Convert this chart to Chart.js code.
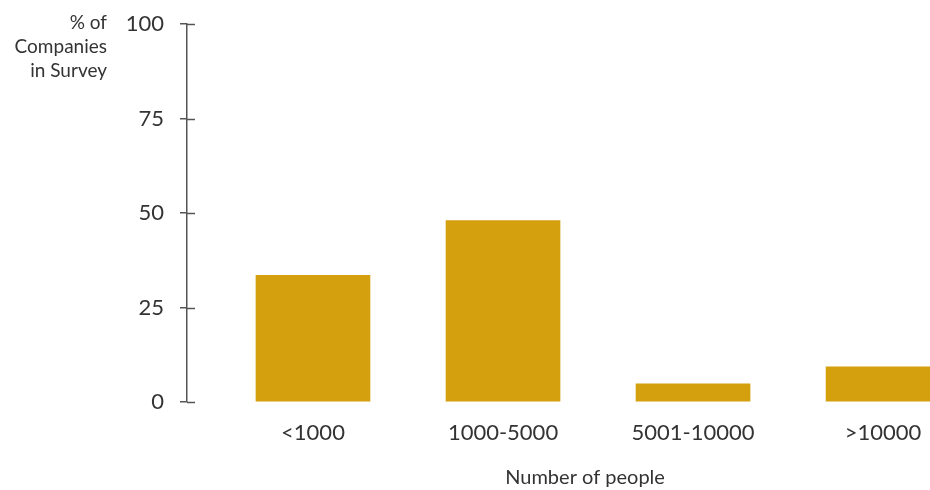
<!DOCTYPE html>
<html>
<head>
<meta charset="utf-8">
<script src="https://cdn.jsdelivr.net/npm/chart.js@4"></script>
<style>
  html, body { margin: 0; padding: 0; background: #fff; overflow: hidden; }
  #wrap { width: 930px; height: 490px; }
</style>
</head>
<body>
<div id="wrap"><canvas id="sizeChart"></canvas></div>
<script>
const categories = ['<1000', '1000-5000', '5001-10000', '>10000'];
const shares = [33.5, 48, 4.8, 9.3];
const yTicks = [0, 25, 50, 75, 100];
const yTitle = ['% of', 'Companies', 'in Survey'];
const xTitle = 'Number of people';

const textColor = '#333333';
const axisColor = '#555555';
const barColor = '#D4A00D';
const fontFamily = 'Lato, "Open Sans", sans-serif';

// titles plus the short inner half of the y ticks
const extras = {
  id: 'extras',
  afterDraw(chart) {
    const ctx = chart.ctx;
    const area = chart.chartArea;
    const y = chart.scales.y;
    const x = chart.scales.x;
    ctx.save();
    ctx.strokeStyle = axisColor;
    ctx.lineWidth = 1.5;
    yTicks.forEach(v => {
      const py = Math.round(y.getPixelForValue(v)) + 0.5;
      ctx.beginPath();
      ctx.moveTo(area.left, py);
      ctx.lineTo(area.left + 8, py);
      ctx.stroke();
    });
    ctx.fillStyle = textColor;
    ctx.font = '19px ' + fontFamily;
    ctx.textAlign = 'right';
    ctx.textBaseline = 'middle';
    const top = y.getPixelForValue(100);
    yTitle.forEach((line, i) => ctx.fillText(line, area.left - 80, top - 1 + i * 24));
    ctx.textAlign = 'center';
    ctx.font = '20px ' + fontFamily;
    ctx.fillText(xTitle, x.getPixelForValue(1.5) - 13, 478);
    ctx.restore();
  }
};

new Chart('sizeChart', {
  type: 'bar',
  data: {
    datasets: [{
      data: categories.map((c, i) => ({ x: i, y: shares[i] })),
      backgroundColor: barColor,
      barThickness: 114
    }]
  },
  options: {
    responsive: true,
    maintainAspectRatio: false,
    animation: false,
    layout: { padding: { top: 24, right: 0, left: 0, bottom: 0 } },
    plugins: { legend: { display: false }, tooltip: { enabled: false } },
    scales: {
      x: {
        type: 'linear',
        offset: false,
        min: -0.663,
        max: 3.247,
        grid: { display: false, drawTicks: false },
        border: { display: false },
        afterFit(scale) {
          scale.height = 88;
          scale.paddingLeft = 0;
          scale.paddingRight = 0;
        },
        afterBuildTicks(scale) { scale.ticks = categories.map((c, i) => ({ value: i })); },
        ticks: {
          padding: 18,
          color: textColor,
          font: { family: fontFamily, size: 22 },
          maxRotation: 0,
          callback: v => categories[v]
        }
      },
      y: {
        min: 0,
        max: 100,
        afterFit(scale) {
          scale.width = 187;
          scale.paddingTop = 0;
          scale.paddingBottom = 0;
        },
        afterBuildTicks(scale) { scale.ticks = yTicks.map(v => ({ value: v })); },
        grid: { drawOnChartArea: false, tickLength: 7, color: axisColor, lineWidth: 1.5 },
        border: { display: true, color: axisColor, width: 1.5 },
        ticks: {
          padding: 16,
          color: textColor,
          font: { family: fontFamily, size: 22 }
        }
      }
    }
  },
  plugins: [extras]
});
</script>
</body>
</html>
